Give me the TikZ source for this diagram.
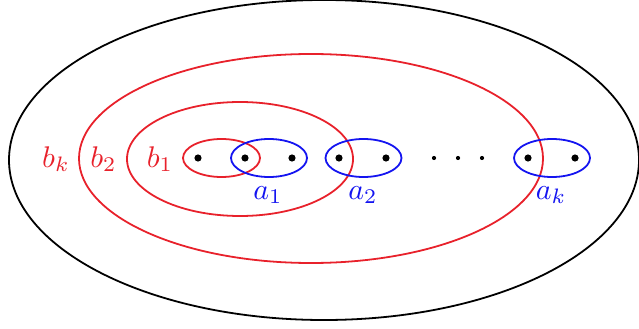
\documentclass[tikz,border=0pt]{standalone}
\usepackage{xcolor}
\usepackage{tikz}
\usetikzlibrary{positioning}
\definecolor{cvred}{HTML}{E8212B}
\definecolor{cvblue}{HTML}{1414F0}

\begin{document}
\begin{tikzpicture}[
  x=0.01176cm, y=-0.01176cm,
  bcurve/.style={draw=cvred, line width=0.6pt},
  acurve/.style={draw=cvblue, line width=0.6pt},
  pt/.style={circle, fill=black, inner sep=0pt, minimum size=2.4pt},
  dotpt/.style={circle, fill=black, inner sep=0pt, minimum size=1.4pt},
  blab/.style={text=cvred},
  alab/.style={text=cvblue}
]
\useasboundingbox (0,0) rectangle (639,328);
% boundary surface
\draw[line width=0.6pt] (324,160) ellipse [x radius=315, y radius=160];
% b curves
\draw[bcurve] (311,158.5) ellipse [x radius=232, y radius=104.5];
\draw[bcurve] (240,159) ellipse [x radius=113, y radius=57];
\draw[bcurve] (221.5,158) ellipse [x radius=38.5, y radius=19];
% a curves
\draw[acurve] (269,158) ellipse [x radius=38, y radius=19];
\draw[acurve] (363.5,158) ellipse [x radius=38, y radius=19];
\draw[acurve] (552,158) ellipse [x radius=38, y radius=19];
% punctures
\foreach \i/\x in {1/198,2/245,3/292,4/339,5/386,6/528,7/575}
  \node[pt] (p\i) at (\x,158) {};
\foreach \i/\x in {1/434,2/458,3/482}
  \node[dotpt] (d\i) at (\x,158) {};
% labels
\node[blab] (bk) at (56,159) {$b_k$};
\node[blab] (b2) at (103.5,159) {$b_2$};
\node[blab] (b1) at (160,159) {$b_1$};
\node[alab] (a1) at (268,195) {$a_1$};
\node[alab] (a2) at (363,195) {$a_2$};
\node[alab] (ak) at (551,195) {$a_k$};
\end{tikzpicture}
\end{document}
